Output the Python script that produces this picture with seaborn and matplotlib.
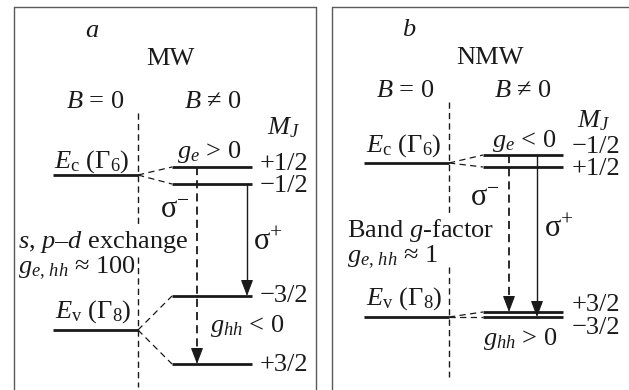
import matplotlib
matplotlib.use("Agg")
import matplotlib.pyplot as plt
import pandas as pd
import seaborn as sns

# ---------------- level schemes (energy axis points downward) ----------------
panel_tags = ["a", "b"]
well_names = ["MW", "NMW"]

# band edges at B = 0: conduction E_c(Γ6) and valence E_v(Γ8)
mw_band_edges = [175, 330]
nmw_band_edges = [163, 317]

# Zeeman sublevels at B ≠ 0: electron pair, then heavy-hole pair
mw_split = [167, 184, 296, 364]
nmw_split = [155, 167, 312, 317]
mw_mj = ["+1/2", "\u22121/2", "\u22123/2", "+3/2"]
nmw_mj = ["\u22121/2", "+1/2", "+3/2", "\u22123/2"]

# optical transitions (start level, end level)
mw_sigma_minus = [167, 364]
mw_sigma_plus = [184, 296]
nmw_sigma_minus = [155, 312]
nmw_sigma_plus = [155, 317]

mw_texts = ["$g_e$ > 0", "$g_{hh}$ < 0",
            "$s$, $p$\u2013$d$ exchange", "$g_{e,\\,hh}$ \u2248 100"]
nmw_texts = ["$g_e$ < 0", "$g_{hh}$ > 0",
             "Band $g$-factor", "$g_{e,\\,hh}$ \u2248 1"]

# ---------------- drawing layout ----------------
W, H = 629, 390
layouts = [
    dict(ox=0, frame=(14, 316), guide=[(113, 227), (257, 387)],
         sm_x=197, sp_x=247,
         tag=(92, 37), well=(170, 65), b0=(95, 108), bn=(213, 108), mjh=(284, 134),
         ec=(92, 168), ev=(93, 318), g1=(209, 158), g2=(247, 332),
         sm_lab=(175, 218), sp_lab=(268, 250), mech=[(18, 248), (18, 273)],
         mj_base=[170, 192, 302, 371], mj_right=308),
    dict(ox=311, frame=(21, 330), guide=[(102, 213), (267, 377)],
         sm_x=198, sp_x=226,
         tag=(98, 36), well=(179, 64), b0=(94, 97), bn=(212, 97), mjh=(283, 127),
         ec=(93, 152), ev=(93, 305), g1=(213, 147), g2=(209, 345),
         sm_lab=(174, 206), sp_lab=(248, 237), mech=[(36, 237), (36, 262)],
         mj_base=[153, 175, 311, 334], mj_right=309),
]
schemes = [
    (mw_band_edges, mw_split, mw_mj, mw_sigma_minus, mw_sigma_plus, mw_texts),
    (nmw_band_edges, nmw_split, nmw_mj, nmw_sigma_minus, nmw_sigma_plus, nmw_texts),
]

sns.set_theme(style="white")
plt.rcParams.update({
    "font.family": ["Liberation Serif", "DejaVu Serif"],
    "mathtext.fontset": "custom",
    "mathtext.rm": "Liberation Serif",
    "mathtext.it": "Liberation Serif:italic",
    "mathtext.bf": "Liberation Serif:bold",
})

fig = plt.figure(figsize=(W / 100, H / 100), dpi=100)
ax = fig.add_axes([0, 0, 1, 1])

frames, levels, links, guides, solid, dashed = [], [], [], [], [], []
heads = []


def seg(store, x0, y0, x1, y1):
    k = len(store) // 2
    store.append(dict(x=x0, y=y0, seg=k))
    store.append(dict(x=x1, y=y1, seg=k))


X0, XD, XS0, XS1 = 53, 138, 172, 252
HEAD = 13

for lay, (edges, split, mj, smin, splus, texts) in zip(layouts, schemes):
    ox = lay["ox"]
    fl, fr = lay["frame"]
    # open panel frame
    seg(frames, ox + fl, H + 5, ox + fl, 7)
    seg(frames, ox + fl, 7, min(ox + fr, W + 5), 7)
    if ox + fr < W:
        seg(frames, ox + fr, 7, ox + fr, H + 5)
    # B = 0 / B ≠ 0 divider
    for y0, y1 in lay["guide"]:
        seg(guides, ox + XD, y0, ox + XD, y1)
    # zero-field band edges
    for e in edges:
        seg(levels, ox + X0, e, ox + XD, e)
    # split sublevels with dashed links to their parent band edge
    for i, s in enumerate(split):
        parent = edges[i // 2]
        seg(levels, ox + XS0, s, ox + XS1, s)
        seg(links, ox + XD, parent, ox + XS0, s)
    # transitions
    xm = ox + lay["sm_x"]
    seg(dashed, xm, smin[0], xm, smin[1] - HEAD + 2)
    heads.append((xm, smin[1]))
    xp = ox + lay["sp_x"]
    seg(solid, xp, splus[0], xp, splus[1] - HEAD + 2)
    heads.append((xp, splus[1]))


def draw(store, **kws):
    df = pd.DataFrame(store)
    sns.lineplot(data=df, x="x", y="y", units="seg", estimator=None,
                 sort=False, legend=False, ax=ax, **kws)


draw(frames, color="#5a5a5a", linewidth=1.0)
draw(levels, color="#1a1a1a", linewidth=2.0, solid_capstyle="butt")
draw(links, color="#1a1a1a", linewidth=0.9, linestyle=(0, (5, 3.5)))
draw(guides, color="#1a1a1a", linewidth=1.0, linestyle=(0, (4.5, 3)))
draw(dashed, color="#1a1a1a", linewidth=1.3, linestyle=(0, (4.5, 2.8)))
draw(solid, color="#1a1a1a", linewidth=1.0)

for x, y in heads:
    ax.annotate("", xy=(x, y), xytext=(x, y - HEAD),
                arrowprops=dict(arrowstyle="-|>,head_length=1.0,head_width=0.38",
                                mutation_scale=10, color="#1a1a1a", lw=0.8,
                                shrinkA=0, shrinkB=0))

FS = 19
for lay, tag, name, (edges, split, mj, smin, splus, texts), ec_lab, ev_lab in zip(
        layouts, panel_tags, well_names, schemes,
        ["$E_{\\mathrm{c}}$ ($\\Gamma_6$)"] * 2, ["$E_{\\mathrm{v}}$ ($\\Gamma_8$)"] * 2):
    ox = lay["ox"]

    def put(pos, s, ha="center", size=FS, **kw):
        ax.text(ox + pos[0], pos[1], s, ha=ha, va="baseline", fontsize=size,
                color="#1a1a1a", **kw)

    put(lay["tag"], tag, style="italic")
    put(lay["well"], name)
    put(lay["b0"], "$B$ = 0")
    put(lay["bn"], "$B$ \u2260 0")
    put(lay["mjh"], "$M_J$")
    put(lay["ec"], ec_lab)
    put(lay["ev"], ev_lab)
    put(lay["g1"], texts[0])
    put(lay["g2"], texts[1])
    put(lay["mech"][0], texts[2], ha="left")
    put(lay["mech"][1], texts[3], ha="left")
    put(lay["sm_lab"], "\u03c3$^{-}$", size=22)
    put(lay["sp_lab"], "\u03c3$^{+}$", size=22)
    for lab, yb in zip(mj, lay["mj_base"]):
        put((lay["mj_right"], yb), lab, ha="right")

ax.set_xlim(0, W)
ax.set_ylim(H, 0)
ax.set_axis_off()
fig.savefig("out.png", dpi=100, facecolor="white")
